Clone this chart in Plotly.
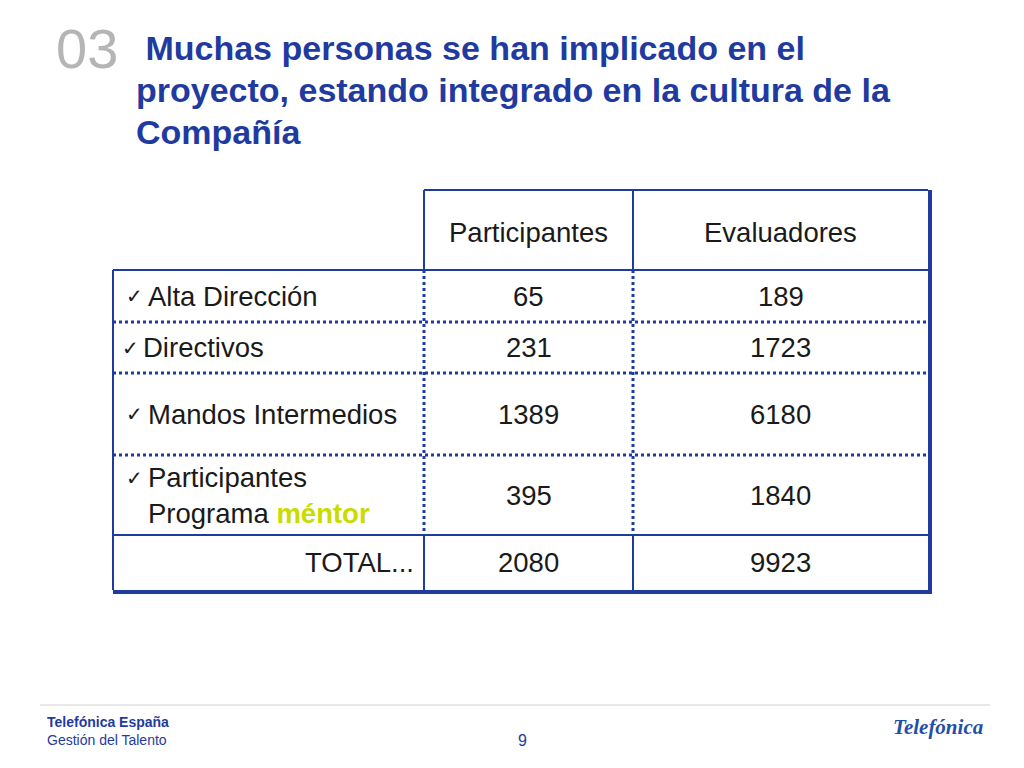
import plotly.graph_objects as go

headers = ["Participantes", "Evaluadores"]
categories = ["Alta Dirección", "Directivos", "Mandos Intermedios", "Participantes<br>Programa <b><span style='color:#c8dc00'>méntor</span></b>", "TOTAL..."]
participantes = [65, 231, 1389, 395, 2080]
evaluadores = [189, 1723, 6180, 1840, 9923]
title_lines = [" Muchas personas se han implicado en el", "proyecto, estando integrado en la cultura de la", "Compañía"]

BLUE = "#1f3ba0"
FONT = "Liberation Sans, Arial"
fig = go.Figure()
shapes = []
ann = []

xL, x1, x2, xR = 113, 424, 633, 928
yH, yT = 190, 270
row_edges = [270, 322, 373, 455, 535, 590]

def line(xa, ya, xb, yb, w=2, dash="solid", color=BLUE):
    shapes.append(dict(type="line", xref="x", yref="y", x0=xa, y0=ya, x1=xb, y1=yb,
                       line=dict(color=color, width=w, dash=dash)))

line(x1, yH, xR, yH); line(x1, yH, x1, yT); line(x2, yH, x2, yT)
line(xL, yT, xR, yT)
for y in row_edges[1:4]:
    line(xL, y, xR, y, w=3, dash="dot")
line(xL, row_edges[4], xR, row_edges[4])
line(xL, yT, xL, row_edges[5])
for x in (x1, x2):
    line(x, yT, x, row_edges[4], w=3, dash="dot")
    line(x, row_edges[4], x, row_edges[5])
line(xR + 2, yH, xR + 2, row_edges[5] + 2, w=4)
line(xL, row_edges[5] + 2, xR + 4, row_edges[5] + 2, w=4)

def txt(x, y, s, size=27.5, color="#1a1a1a", anchor="center", bold=False, fam=FONT, italic=False):
    if bold: s = "<b>" + s + "</b>"
    if italic: s = "<i>" + s + "</i>"
    ann.append(dict(x=x, y=y, xref="x", yref="y", text=s, showarrow=False, xanchor=anchor,
                    yanchor="middle", align="left", font=dict(size=size, color=color, family=fam)))

for i, h in enumerate(headers):
    txt((x1 + x2) / 2 if i == 0 else (x2 + xR) / 2, 232, h)
for i in range(5):
    yc = (row_edges[i] + row_edges[i + 1]) / 2
    if i < 4:
        txt(124 if i != 1 else 120, yc - (17 if i == 3 else 0), "✓", size=20, anchor="left", fam="DejaVu Sans")
        txt(146 if i != 1 else 141, yc, categories[i], anchor="left")
    else:
        txt(416, yc, categories[i], anchor="right")
    txt((x1 + x2) / 2, yc, str(participantes[i]))
    txt((x2 + xR) / 2, yc, str(evaluadores[i]))

txt(54, 48, "03", size=56, color="#b5b5b5", anchor="left")
for j, t in enumerate(title_lines):
    txt(134, 48 + 42 * j, t, size=34, color=BLUE, anchor="left", bold=True)

line(40, 705, 990, 705, w=1, color="#d0d0d0")
txt(45, 722, "Telefónica España", size=14, color=BLUE, anchor="left", bold=True)
txt(45, 740, "Gestión del Talento", size=14, color=BLUE, anchor="left")
txt(522, 740, "9", size=16, color=BLUE)
txt(938, 727, "Telefónica", size=21, color="#1f4fa8", bold=True, italic=True, fam="Liberation Serif", anchor="center")

fig.update_layout(width=1024, height=768, margin=dict(l=0, r=0, t=0, b=0),
                  paper_bgcolor="white", plot_bgcolor="white", shapes=shapes, annotations=ann,
                  xaxis=dict(range=[8, 1032], visible=False, fixedrange=True),
                  yaxis=dict(range=[776, 8], visible=False, fixedrange=True), showlegend=False)
fig.write_html("out.html")
